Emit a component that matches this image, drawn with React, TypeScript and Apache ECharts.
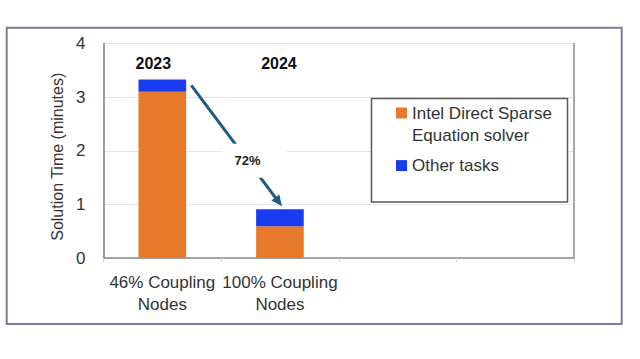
import React, { useEffect, useRef } from 'react';
import * as echarts from 'echarts';

const categories = ['46% Coupling\nNodes', '100% Coupling\nNodes', '', ''];
const seriesNames = ['Intel Direct Sparse\nEquation solver', 'Other tasks'];
const solverValues = [3.1, 0.59];
const otherValues = [0.23, 0.32];
const yearLabels = ['2023', '2024'];
const reductionLabel = '72%';
const yMin = 0;
const yMax = 4;
const yInterval = 1;
const yAxisTitle = 'Solution Time (minutes)';

const FONT = '"Liberation Sans", Arial, sans-serif';
const ORANGE = '#E6792A';
const BLUE = '#1A3CF0';
const ARROW = '#1F5A82';

export default function App() {
  const ref = useRef<HTMLDivElement>(null);
  useEffect(() => {
    const chart = echarts.init(ref.current!, null, { renderer: 'svg' });
    const legendCommon = {
      orient: 'vertical',
      left: 396,
      padding: 0,
      itemWidth: 11,
      itemHeight: 11,
      itemGap: 0,
      icon: 'rect',
      selectedMode: false,
      z: 6,
      textStyle: { fontSize: 17, color: '#333', lineHeight: 22, fontFamily: FONT },
    };
    const option: any = {
      animation: false,
      backgroundColor: '#fff',
      textStyle: { fontFamily: FONT },
      grid: { left: 103.5, right: 66, top: 43.5, bottom: 101, containLabel: false },
      xAxis: [
        {
          type: 'category',
          data: categories,
          axisLine: { lineStyle: { color: '#d3dae2', width: 1 } },
          axisTick: { show: true, length: 4, lineStyle: { color: '#c8d0d8' } },
          axisLabel: { fontSize: 17, color: '#333', lineHeight: 22, margin: 13, interval: 0 },
          splitLine: { show: false },
        },
        {
          type: 'category',
          data: categories,
          position: 'top',
          axisLine: { lineStyle: { color: '#8c8c8c', width: 1.5 } },
          axisTick: { show: false },
          axisLabel: { show: false },
          splitLine: { show: false },
        },
      ],
      yAxis: [
        {
          type: 'value',
          min: yMin,
          max: yMax,
          interval: yInterval,
          axisLine: { show: true, lineStyle: { color: '#7f7f7f', width: 1.5 } },
          axisTick: { show: false },
          axisLabel: { fontSize: 17, color: '#333', margin: 18 },
          splitLine: { lineStyle: { color: '#e1e6ec', width: 1 } },
          name: yAxisTitle,
          nameLocation: 'middle',
          nameGap: 38,
          nameTextStyle: { fontSize: 16, color: '#333', padding: [0, 12, 0, 0] },
        },
        {
          type: 'value',
          min: yMin,
          max: yMax,
          interval: yInterval,
          position: 'right',
          axisLine: { show: true, lineStyle: { color: '#8c8c8c', width: 1.5 } },
          axisTick: { show: false },
          axisLabel: { show: false },
          splitLine: { show: false },
        },
      ],
      legend: [
        {
          ...legendCommon,
          top: 80,
          data: [seriesNames[0]],
          formatter: (name: string) => '\u00a0\n' + name,
        },
        {
          ...legendCommon,
          top: 154.6,
          data: [seriesNames[1]],
        },
      ],
      series: [
        {
          name: seriesNames[0],
          type: 'bar',
          stack: 'total',
          data: solverValues,
          barWidth: '40.5%',
          itemStyle: { color: ORANGE },
        },
        {
          name: seriesNames[1],
          type: 'bar',
          stack: 'total',
          data: otherValues,
          barWidth: '40.5%',
          itemStyle: { color: BLUE },
        },
      ],
    };
    chart.setOption(option);

    const px = (cat: number, v: number) => chart.convertToPixel({ gridIndex: 0 }, [cat, v]) as number[];
    const top0 = solverValues[0] + otherValues[0];
    const top1 = solverValues[1] + otherValues[1];
    const a = px(0, top0);
    const b = px(1, top1);
    const start = [a[0] + 29, a[1] + 6];
    const tip = [b[0] + 2, b[1] - 3];
    const dx = tip[0] - start[0];
    const dy = tip[1] - start[1];
    const len = Math.sqrt(dx * dx + dy * dy);
    const ux = dx / len;
    const uy = dy / len;
    const headLen = 11;
    const headHalf = 5;
    const base = [tip[0] - ux * headLen, tip[1] - uy * headLen];
    const lineEnd = [tip[0] - ux * 8, tip[1] - uy * 8];
    const mid = [(start[0] + tip[0]) / 2 + 11, (start[1] + tip[1]) / 2 + 15];
    const yearY = (chart.convertToPixel({ gridIndex: 0 }, [0, 3.63]) as number[])[1];

    chart.setOption({
      graphic: [
        {
          type: 'rect',
          z: 10,
          shape: { x: 6.7, y: 27.7, width: 615, height: 296.3 },
          style: { fill: 'none', stroke: '#7a7aa0', lineWidth: 2 },
        },
        {
          type: 'rect',
          z: 5,
          shape: { x: 371.5, y: 98.5, width: 196, height: 103.5 },
          style: { fill: '#fff', stroke: '#595959', lineWidth: 1.5 },
        },
        {
          type: 'line',
          z: 7,
          shape: { x1: start[0], y1: start[1], x2: lineEnd[0], y2: lineEnd[1] },
          style: { stroke: ARROW, lineWidth: 3 },
        },
        {
          type: 'polygon',
          z: 7,
          shape: {
            points: [
              tip,
              [base[0] - uy * headHalf, base[1] + ux * headHalf],
              [base[0] + uy * headHalf, base[1] - ux * headHalf],
            ],
          },
          style: { fill: ARROW },
        },
        {
          type: 'rect',
          z: 8,
          shape: { x: mid[0] - 25, y: mid[1] - 17, width: 64, height: 34 },
          style: { fill: '#fff' },
        },
        {
          type: 'text',
          z: 9,
          x: mid[0],
          y: mid[1],
          style: {
            text: reductionLabel,
            font: `bold 13px ${FONT}`,
            fill: '#222',
            align: 'center',
            verticalAlign: 'middle',
          },
        },
        ...yearLabels.map((t, i) => ({
          type: 'text',
          z: 9,
          x: px(i, 0)[0] + (i === 0 ? -9 : -1),
          y: yearY,
          style: {
            text: t,
            font: `bold 16px ${FONT}`,
            fill: '#111',
            align: 'center',
            verticalAlign: 'middle',
          },
        })),
      ],
    });
    return () => chart.dispose();
  }, []);
  return (
    <div
      ref={ref}
      style={{ position: 'absolute', left: 0, top: 0, width: 640, height: 359, background: '#fff' }}
    />
  );
}
